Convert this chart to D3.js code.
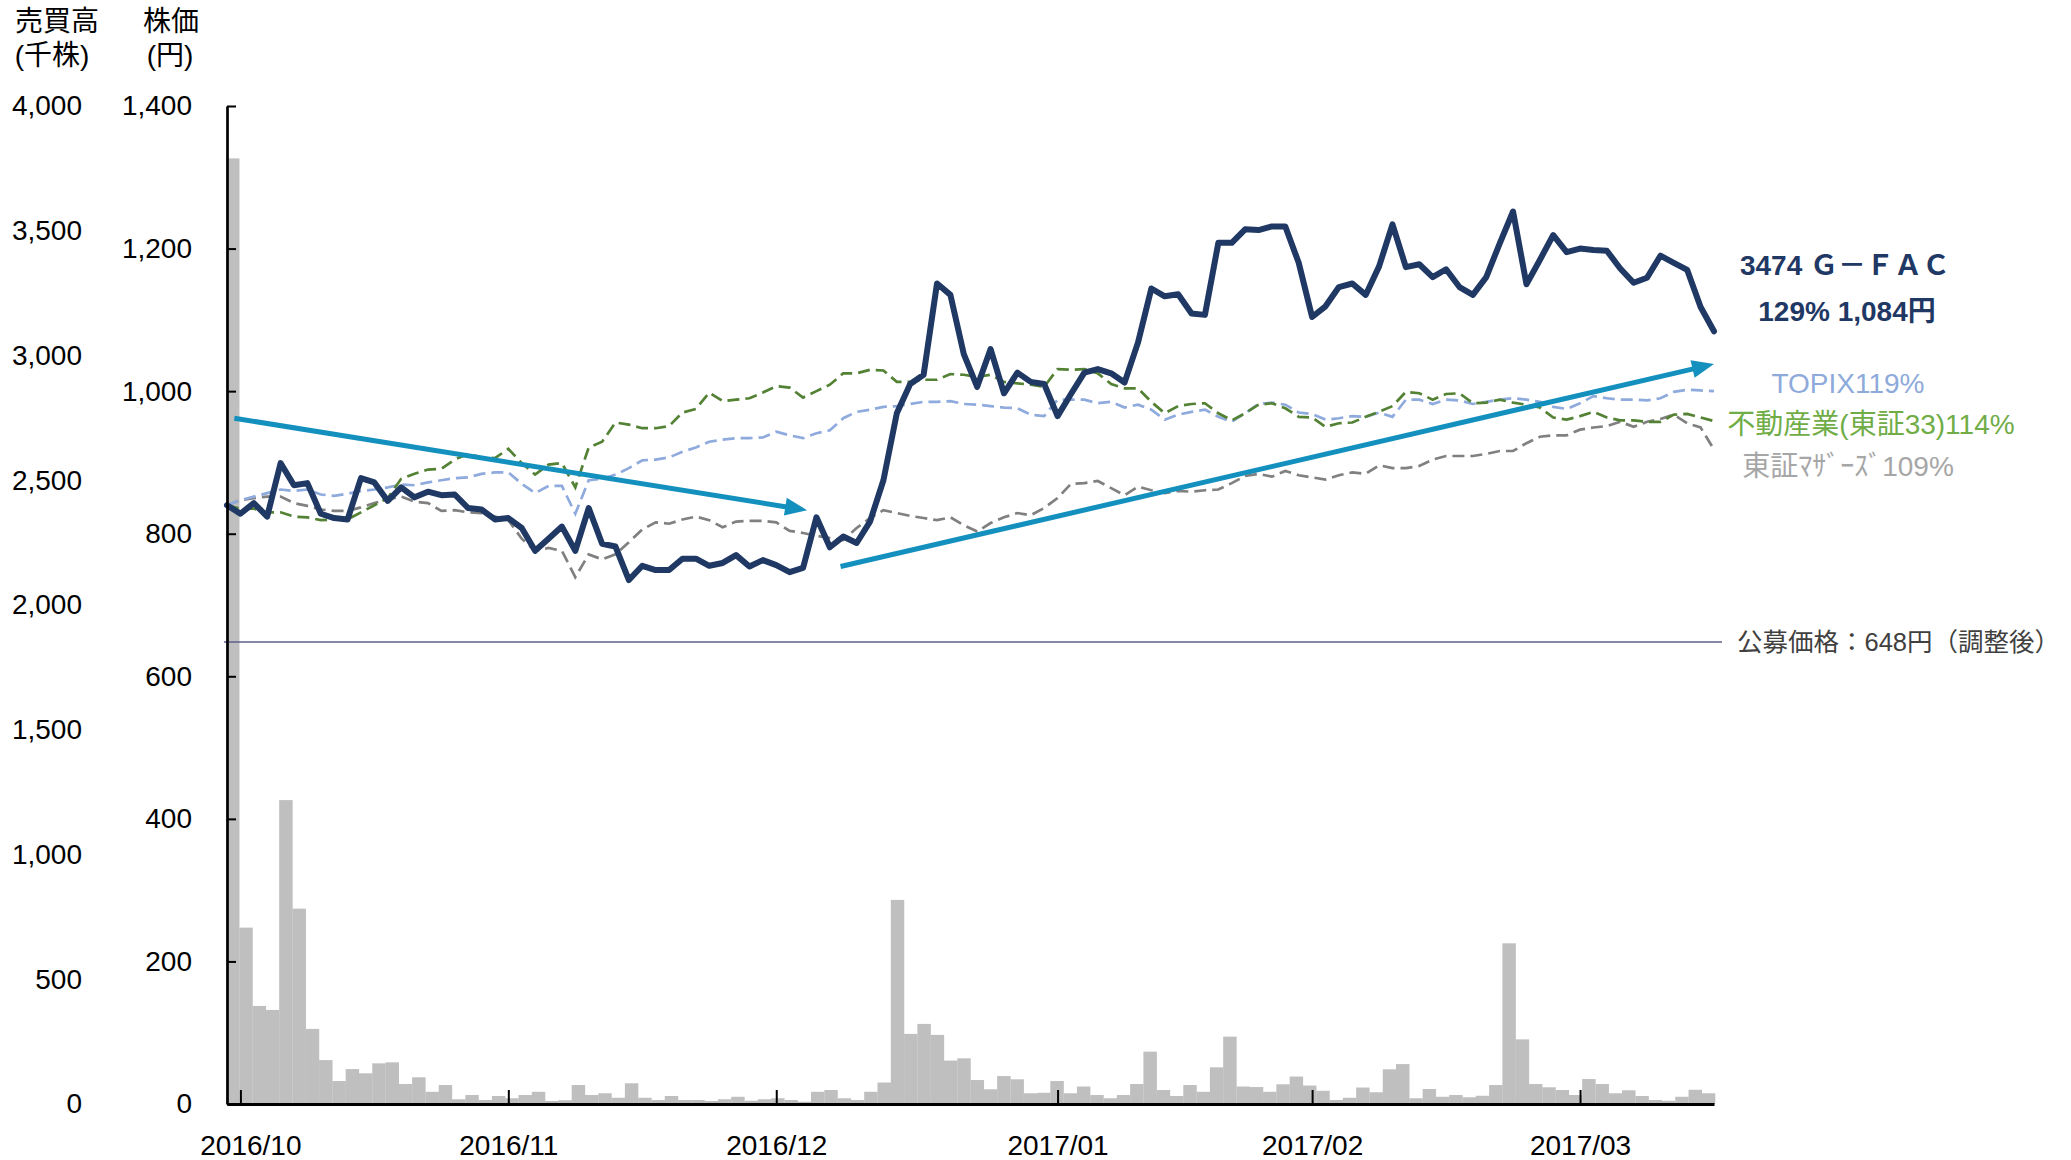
<!DOCTYPE html>
<html>
<head>
<meta charset="utf-8">
<script src="https://cdn.jsdelivr.net/npm/d3@7"></script>
<style>
body { margin: 0; background: #fff; }
text { font-family: "Liberation Sans", Arial, "Noto Sans CJK JP", sans-serif; }
</style>
</head>
<body>
<script>
// trading days 2016/09/30 .. 2017/03/15 (index 0 = 09/30)
// first trading day of each month -> tick position
var monthTickIndex = [1, 21, 41, 62, 81, 101];
var monthLabels = ["2016/10", "2016/11", "2016/12", "2017/01", "2017/02", "2017/03"];

// 3474 G-FAC close (円)
var gfac = [
  840, 828, 843, 824, 899, 868, 871, 828, 822, 820,
  878, 872, 846, 865, 851, 859, 854, 855, 836, 834,
  820, 822, 808, 776, 793, 810, 776, 836, 786, 782,
  735, 755, 749, 749, 765, 765, 755, 759, 770, 754,
  763, 756, 746, 752, 823, 781, 796, 787, 817, 875,
  969, 1010, 1023, 1151, 1135, 1052, 1006, 1059, 997, 1026,
  1013, 1010, 965, 996, 1026, 1031, 1025, 1012, 1068, 1144,
  1133, 1136, 1109, 1107, 1208, 1208, 1227, 1226, 1231, 1231,
  1180, 1104, 1119, 1146, 1151, 1135, 1175, 1234, 1174, 1178,
  1160, 1171, 1146, 1135, 1160, 1207, 1252, 1150, 1184, 1219,
  1195, 1200, 1198, 1197, 1172, 1152, 1159, 1190, 1180, 1170,
  1118, 1084
];

// indices rebased to the stock's first close
var topix = [
  840, 847, 852, 857, 862, 860, 862, 855, 853, 856,
  860, 862, 865, 869, 868, 872, 875, 878, 879, 884,
  886, 886, 870, 857, 867, 867, 828, 875, 877, 883,
  892, 903, 904, 907, 915, 921, 929, 932, 934, 934,
  935, 943, 938, 934, 941, 945, 962, 971, 974, 978,
  979, 982, 985, 985, 986, 982, 981, 979, 977, 976,
  967, 965, 988, 988, 988, 983, 985, 977, 981, 974,
  960, 967, 971, 974, 964, 957, 969, 982, 984, 981,
  970, 968, 960, 962, 965, 964, 970, 964, 988, 988,
  982, 988, 987, 982, 985, 988, 990, 988, 985, 978,
  975, 983, 993, 990, 988, 988, 987, 990, 999, 1002,
  1001, 1000
];

var realEstate = [
  840, 835, 835, 830, 830, 824, 823, 819, 820, 820,
  830, 840, 850, 877, 884, 890, 891, 904, 912, 907,
  906, 919, 899, 883, 897, 899, 865, 921, 929, 956,
  953, 948, 948, 951, 970, 975, 998, 986, 988, 990,
  998, 1007, 1005, 991, 1000, 1009, 1025, 1025, 1030, 1029,
  1013, 1013, 1016, 1016, 1024, 1023, 1020, 1023, 1013, 1011,
  1009, 1006, 1031, 1030, 1031, 1025, 1010, 1004, 1004, 985,
  969, 979, 982, 983, 969, 959, 969, 981, 983, 976,
  964, 963, 950, 955, 956, 964, 971, 979, 999, 997,
  988, 996, 997, 983, 984, 988, 984, 981, 977, 963,
  960, 965, 971, 963, 959, 959, 957, 957, 967, 968,
  963, 958
];

var mothers = [
  840, 847, 850, 852, 852, 843, 839, 834, 832, 832,
  837, 843, 848, 852, 845, 843, 832, 833, 830, 829,
  824, 819, 793, 776, 780, 776, 739, 771, 764, 771,
  788, 806, 816, 814, 820, 824, 819, 809, 817, 818,
  818, 816, 804, 801, 797, 794, 791, 808, 822, 833,
  829, 825, 822, 819, 823, 812, 803, 815, 823, 829,
  826, 836, 850, 870, 871, 874, 864, 854, 866, 861,
  857, 860, 859, 861, 862, 871, 881, 884, 880, 888,
  882, 879, 876, 882, 886, 884, 896, 892, 892, 895,
  904, 909, 909, 909, 912, 916, 916, 927, 936, 938,
  938, 946, 949, 951, 957, 950, 957, 961, 967, 955,
  949, 918
];

// 売買高 (千株)
var volume = [
  3790, 707, 393, 377, 1218, 783, 301, 176, 92, 140,
  123, 163, 167, 80, 107, 49, 76, 19, 36, 16,
  32, 23, 36, 49, 12, 15, 76, 36, 43, 25,
  83, 25, 16, 32, 16, 16, 12, 19, 29, 13,
  19, 23, 16, 9, 49, 56, 23, 16, 49, 86,
  818, 281, 321, 277, 174, 183, 96, 59, 112, 99,
  43, 45, 92, 43, 70, 36, 23, 36, 80, 210,
  56, 32, 76, 49, 147, 270, 70, 68, 49, 79,
  110, 74, 53, 16, 25, 66, 47, 139, 160, 23,
  60, 29, 36, 27, 33, 76, 644, 259, 80, 67,
  56, 36, 100, 80, 43, 55, 32, 16, 13, 29,
  57, 43
];

var ipoPrice = 648;
var priceTicks = [0, 200, 400, 600, 800, 1000, 1200, 1400];
var volumeTicks = [0, 500, 1000, 1500, 2000, 2500, 3000, 3500, 4000];

// trend arrows: [day index, price]
var arrows = [
  {from: [0.55, 962], to: [43.3, 833]},
  {from: [45.8, 754], to: [111, 1038]}
];

var width = 2071, height = 1160;
var plot = {left: 227, right: 1714, top: 106, bottom: 1104};

var svg = d3.select("body").append("svg")
    .attr("width", width)
    .attr("height", height);

svg.append("rect").attr("width", width).attr("height", height).attr("fill", "#fff");

// scales
var x = d3.scaleLinear().domain([0, gfac.length - 1]).range([plot.left, plot.right]);
var xBand = d3.scaleBand().domain(d3.range(volume.length))
    .range([plot.left - 1, plot.right + 1]).paddingInner(0.01);
var yPrice = d3.scaleLinear().domain([0, 1400]).range([plot.bottom, plot.top]);
var yVol = d3.scaleLinear().domain([0, 4000]).range([plot.bottom, plot.top]);

// volume bars
svg.append("g").selectAll("rect")
    .data(volume)
    .enter().append("rect")
    .attr("x", function(d, i) { return xBand(i); })
    .attr("width", xBand.bandwidth() + 0.3)
    .attr("y", function(d) { return yVol(d); })
    .attr("height", function(d) { return plot.bottom - yVol(d); })
    .attr("fill", "#bfbfbf");

// offering price line
svg.append("line")
    .attr("x1", plot.left - 3).attr("x2", plot.right + 8)
    .attr("y1", yPrice(ipoPrice)).attr("y2", yPrice(ipoPrice))
    .attr("stroke", "#5f5f8f").attr("stroke-width", 1.6);

svg.append("text")
    .attr("x", 1737).attr("y", yPrice(ipoPrice) + 9)
    .style("font-size", "25.5px").attr("fill", "#404040")
    .text("公募価格：" + ipoPrice + "円（調整後）");

var line = d3.line()
    .x(function(d, i) { return x(i); })
    .y(function(d) { return yPrice(d); });

var dashed = [
  {data: mothers, color: "#808080"},
  {data: topix, color: "#8faadc"},
  {data: realEstate, color: "#548235"}
];
dashed.forEach(function(s) {
  svg.append("path")
      .datum(s.data)
      .attr("fill", "none")
      .attr("stroke", s.color)
      .attr("stroke-width", 2.7)
      .attr("stroke-dasharray", "12,6")
      .attr("d", line);
});

svg.append("path")
    .datum(gfac)
    .attr("fill", "none")
    .attr("stroke", "#1f3864")
    .attr("stroke-width", 6)
    .attr("stroke-linejoin", "round")
    .attr("stroke-linecap", "round")
    .attr("d", line);

// arrows
arrows.forEach(function(a) {
  var x0 = x(a.from[0]), y0 = yPrice(a.from[1]);
  var x1 = x(a.to[0]), y1 = yPrice(a.to[1]);
  var ang = Math.atan2(y1 - y0, x1 - x0), len = 22, half = 9;
  var c = Math.cos(ang), s = Math.sin(ang);
  var bx = x1 - len * c, by = y1 - len * s;
  svg.append("line")
      .attr("x1", x0).attr("y1", y0)
      .attr("x2", bx + 3 * c).attr("y2", by + 3 * s)
      .attr("stroke", "#1390bd").attr("stroke-width", 5);
  svg.append("path")
      .attr("d", "M" + x1 + "," + y1 +
                 "L" + (bx + half * s) + "," + (by - half * c) +
                 "L" + (bx - half * s) + "," + (by + half * c) + "Z")
      .attr("fill", "#1390bd");
});

// price axis (left, ticks inside)
var gp = svg.append("g")
    .attr("transform", "translate(" + plot.left + ",0)")
    .call(d3.axisLeft(yPrice).tickValues(priceTicks).tickSize(-9).tickSizeOuter(0)
        .tickPadding(35).tickFormat(d3.format(",")));
gp.select(".domain").attr("stroke", "#000").attr("stroke-width", 2.7);
gp.selectAll(".tick line").attr("stroke", "#000").attr("stroke-width", 2);
gp.selectAll("text").style("font-size", "28px").attr("fill", "#000");

// volume axis (labels only)
var gv = svg.append("g")
    .attr("transform", "translate(90,0)")
    .call(d3.axisLeft(yVol).tickValues(volumeTicks).tickSize(0).tickPadding(8)
        .tickFormat(d3.format(",")));
gv.select(".domain").remove();
gv.selectAll("text").style("font-size", "28px").attr("fill", "#000");

// date axis
var gx = svg.append("g")
    .attr("transform", "translate(0," + plot.bottom + ")")
    .call(d3.axisBottom(x).tickValues(monthTickIndex).tickSize(-14).tickSizeOuter(0)
        .tickPadding(31).tickFormat(function(d, i) { return monthLabels[i]; }));
gx.select(".domain").attr("stroke", "#000").attr("stroke-width", 3);
gx.selectAll(".tick line").attr("stroke", "#000").attr("stroke-width", 2);
gx.selectAll("text").style("font-size", "28px").attr("fill", "#000");
gx.select(".tick text").attr("dx", 10);

// axis titles
var titles = [
  {t: "売買高", x: 57, y: 31},
  {t: "(千株)", x: 52, y: 65},
  {t: "株価", x: 171, y: 31},
  {t: "(円)", x: 170, y: 65}
];
svg.selectAll(".title").data(titles).enter().append("text")
    .attr("x", function(d) { return d.x; })
    .attr("y", function(d) { return d.y; })
    .attr("text-anchor", "middle")
    .style("font-size", "28px")
    .attr("fill", "#000")
    .text(function(d) { return d.t; });

// series labels
var labels = [
  {t: "3474 Ｇ－ＦＡＣ", x: 1845, y: 275, c: "#1f3864", w: "bold"},
  {t: "129% 1,084円", x: 1847, y: 321, c: "#1f3864", w: "bold"},
  {t: "TOPIX119%", x: 1848, y: 393, c: "#8eaadb", w: "normal"},
  {t: "不動産業(東証33)114%", x: 1871, y: 434, c: "#70ad47", w: "normal"},
  {t: "東証ﾏｻﾞｰｽﾞ109%", x: 1848, y: 476, c: "#a6a6a6", w: "normal"}
];
svg.selectAll(".lbl").data(labels).enter().append("text")
    .attr("x", function(d) { return d.x; })
    .attr("y", function(d) { return d.y; })
    .attr("text-anchor", "middle")
    .style("font-size", "28px")
    .style("font-weight", function(d) { return d.w; })
    .attr("fill", function(d) { return d.c; })
    .text(function(d) { return d.t; });
</script>
</body>
</html>
